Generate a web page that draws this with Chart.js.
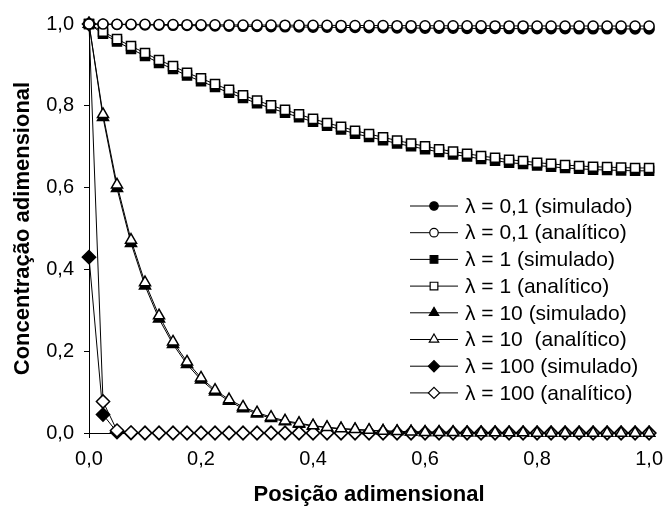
<!DOCTYPE html>
<html>
<head>
<meta charset="utf-8">
<script src="https://cdn.jsdelivr.net/npm/chart.js@4.4.1/dist/chart.umd.min.js"></script>
<style>
  html, body { margin: 0; padding: 0; background: #fff; }
  #wrap { width: 672px; height: 506px; }
</style>
</head>
<body>
<div id="wrap"><canvas id="chart" width="672" height="506"></canvas></div>
<script>
// Posição adimensional (x)
const xPos = [0, 0.025, 0.05, 0.075, 0.1, 0.125, 0.15, 0.175, 0.2, 0.225, 0.25, 0.275, 0.3, 0.325, 0.35, 0.375, 0.4, 0.425, 0.45, 0.475, 0.5,
  0.525, 0.55, 0.575, 0.6, 0.625, 0.65, 0.675, 0.7, 0.725, 0.75, 0.775, 0.8, 0.825, 0.85, 0.875, 0.9, 0.925, 0.95, 0.975, 1.0];

// lambda = 0,1
const sim01 = [1.000, 0.9994, 0.9988, 0.9983, 0.9977, 0.9972, 0.9967, 0.9962, 0.9957, 0.9952, 0.9948, 0.9943, 0.9939, 0.9935, 0.9931, 0.9927, 0.9923, 0.9920, 0.9916, 0.9913, 0.9910,
  0.9907, 0.9904, 0.9902, 0.9899, 0.9897, 0.9895, 0.9893, 0.9891, 0.9889, 0.9888, 0.9886, 0.9885, 0.9884, 0.9883, 0.9882, 0.9881, 0.9881, 0.9880, 0.9880, 0.9880];
const ana01 = [1.000, 0.9998, 0.9995, 0.9993, 0.9991, 0.9988, 0.9986, 0.9984, 0.9982, 0.9980, 0.9978, 0.9976, 0.9975, 0.9973, 0.9971, 0.9970, 0.9968, 0.9967, 0.9965, 0.9964, 0.9963,
  0.9961, 0.9960, 0.9959, 0.9958, 0.9957, 0.9956, 0.9955, 0.9955, 0.9954, 0.9953, 0.9953, 0.9952, 0.9952, 0.9951, 0.9951, 0.9951, 0.9950, 0.9950, 0.9950, 0.9950];

// lambda = 1
const sim1 = [1.000, 0.976, 0.957, 0.939, 0.922, 0.905, 0.890, 0.874, 0.860, 0.846, 0.832, 0.819, 0.806, 0.794, 0.783, 0.772, 0.761, 0.751, 0.742, 0.732, 0.724,
  0.716, 0.708, 0.701, 0.694, 0.687, 0.681, 0.676, 0.670, 0.666, 0.661, 0.658, 0.654, 0.651, 0.648, 0.646, 0.644, 0.643, 0.642, 0.641, 0.641];
const ana1 = [1.000, 0.981, 0.963, 0.946, 0.929, 0.912, 0.897, 0.881, 0.867, 0.853, 0.839, 0.826, 0.813, 0.801, 0.790, 0.779, 0.768, 0.758, 0.749, 0.739, 0.731,
  0.723, 0.715, 0.708, 0.701, 0.694, 0.688, 0.683, 0.677, 0.673, 0.668, 0.665, 0.661, 0.658, 0.655, 0.653, 0.651, 0.650, 0.649, 0.648, 0.648];

// lambda = 10
const sim10 = [1.000, 0.772, 0.598, 0.464, 0.360, 0.279, 0.217, 0.168, 0.130, 0.101, 0.078, 0.060, 0.047, 0.036, 0.028, 0.022, 0.017, 0.013, 0.010, 0.008, 0.006,
  0.005, 0.004, 0.003, 0.002, 0.002, 0.001, 0.001, 0.001, 0.001, 0, 0, 0, 0, 0, 0, 0, 0, 0, 0, 0];
const ana10 = [1.000, 0.779, 0.607, 0.472, 0.368, 0.287, 0.223, 0.174, 0.135, 0.105, 0.082, 0.064, 0.050, 0.039, 0.030, 0.024, 0.018, 0.014, 0.011, 0.009, 0.007,
  0.005, 0.004, 0.003, 0.002, 0.002, 0.002, 0.001, 0.001, 0.001, 0.001, 0.001, 0, 0, 0, 0, 0, 0, 0, 0, 0];

// lambda = 100
const sim100 = [0.430, 0.045, 0.002, 0, 0, 0, 0, 0, 0, 0, 0, 0, 0, 0, 0, 0, 0, 0, 0, 0, 0,
  0, 0, 0, 0, 0, 0, 0, 0, 0, 0, 0, 0, 0, 0, 0, 0, 0, 0, 0, 0];
const ana100 = [1.000, 0.077, 0.006, 0.001, 0, 0, 0, 0, 0, 0, 0, 0, 0, 0, 0, 0, 0, 0, 0, 0, 0,
  0, 0, 0, 0, 0, 0, 0, 0, 0, 0, 0, 0, 0, 0, 0, 0, 0, 0, 0, 0];

const yTicks = [0, 0.2, 0.4, 0.6, 0.8, 1.0];
const xTicks = [0, 0.2, 0.4, 0.6, 0.8, 1.0];

const FONT = "'Liberation Sans', Arial, sans-serif";
const radii = { circle: 5, rect: 6.4, triangle: 6.4, rectRot: 6.6 };

function series(label, values, style, filled) {
  return {
    label: label,
    data: xPos.map((x, i) => ({ x: x, y: values[i] })),
    borderColor: '#000',
    borderWidth: 1,
    pointStyle: style,
    pointRadius: radii[style],
    pointBackgroundColor: filled ? '#000' : '#fff',
    pointBorderColor: '#000',
    pointBorderWidth: 1.5,
    tension: 0,
    fill: false,
    clip: false,
    // open (analytic) markers sit on top of the filled ones
    order: filled ? 1 : 0
  };
}

const datasets = [
  series('\u03bb = 0,1 (simulado)', sim01, 'circle', true),
  series('\u03bb = 0,1 (anal\u00edtico)', ana01, 'circle', false),
  series('\u03bb = 1 (simulado)', sim1, 'rect', true),
  series('\u03bb = 1 (anal\u00edtico)', ana1, 'rect', false),
  series('\u03bb = 10 (simulado)', sim10, 'triangle', true),
  series('\u03bb = 10  (anal\u00edtico)', ana10, 'triangle', false),
  series('\u03bb = 100 (simulado)', sim100, 'rectRot', true),
  series('\u03bb = 100 (anal\u00edtico)', ana100, 'rectRot', false)
];

// small marker painter for the legend
function drawMarker(ctx, style, x, y, r) {
  ctx.beginPath();
  if (style === 'circle') {
    ctx.arc(x, y, r, 0, Math.PI * 2);
  } else if (style === 'rect') {
    const s = r * Math.SQRT1_2;
    ctx.rect(x - s, y - s, 2 * s, 2 * s);
  } else if (style === 'triangle') {
    ctx.moveTo(x, y - r);
    ctx.lineTo(x + r * 0.866, y + r * 0.5);
    ctx.lineTo(x - r * 0.866, y + r * 0.5);
    ctx.closePath();
  } else {
    ctx.moveTo(x - r, y);
    ctx.lineTo(x, y - r);
    ctx.lineTo(x + r, y);
    ctx.lineTo(x, y + r);
    ctx.closePath();
  }
  ctx.fill();
  ctx.stroke();
}

const legendBox = {
  id: 'legendBox',
  afterDraw(chart) {
    const ctx = chart.ctx;
    const x1 = 410, x2 = 458, textX = 465;
    const top = 206, step = 26.7;
    ctx.save();
    ctx.font = '21px ' + FONT;
    ctx.textBaseline = 'middle';
    ctx.textAlign = 'left';
    chart.data.datasets.forEach((ds, i) => {
      const y = top + i * step;
      ctx.strokeStyle = '#000';
      ctx.lineWidth = 1;
      ctx.beginPath();
      ctx.moveTo(x1, y);
      ctx.lineTo(x2, y);
      ctx.stroke();
      ctx.fillStyle = ds.pointBackgroundColor;
      ctx.lineWidth = 1.2;
      drawMarker(ctx, ds.pointStyle, (x1 + x2) / 2, y, ds.pointRadius * 0.85);
      ctx.fillStyle = '#000';
      ctx.fillText(ds.label, textX, y + 1);
    });
    ctx.restore();
  }
};

const fmt = v => Number(v).toFixed(1).replace('.', ',');

new Chart(document.getElementById('chart'), {
  type: 'line',
  data: { datasets: datasets },
  options: {
    responsive: false,
    animation: false,
    layout: { padding: { top: 24, right: 16, bottom: 0, left: 0 } },
    plugins: {
      legend: { display: false },
      tooltip: { enabled: false }
    },
    scales: {
      x: {
        type: 'linear',
        min: 0,
        max: 1,
        afterBuildTicks: s => { s.ticks = xTicks.map(v => ({ value: v })); },
        afterFit: s => { s.height = 73; },
        ticks: { callback: fmt, color: '#000', font: { family: FONT, size: 20 }, padding: 9, maxRotation: 0 },
        grid: { drawOnChartArea: false, drawTicks: true, tickLength: 5, color: '#000' },
        border: { color: '#000', width: 1 },
        title: {
          display: true,
          text: 'Posi\u00e7\u00e3o adimensional',
          color: '#000',
          font: { family: FONT, size: 22, weight: 'bold' },
          padding: { top: 0, bottom: -2 }
        }
      },
      y: {
        type: 'linear',
        min: 0,
        max: 1,
        afterBuildTicks: s => { s.ticks = yTicks.map(v => ({ value: v })); },
        afterFit: s => { s.width = 89; },
        ticks: { callback: fmt, color: '#000', font: { family: FONT, size: 20 }, padding: 10 },
        grid: { drawOnChartArea: false, drawTicks: true, tickLength: 5, color: '#000' },
        border: { color: '#000', width: 1 },
        title: {
          display: true,
          text: 'Concentra\u00e7\u00e3o adimensional',
          color: '#000',
          font: { family: FONT, size: 22, weight: 'bold' },
          padding: { top: 10, bottom: 0 }
        }
      }
    }
  },
  plugins: [legendBox]
});
</script>
</body>
</html>
